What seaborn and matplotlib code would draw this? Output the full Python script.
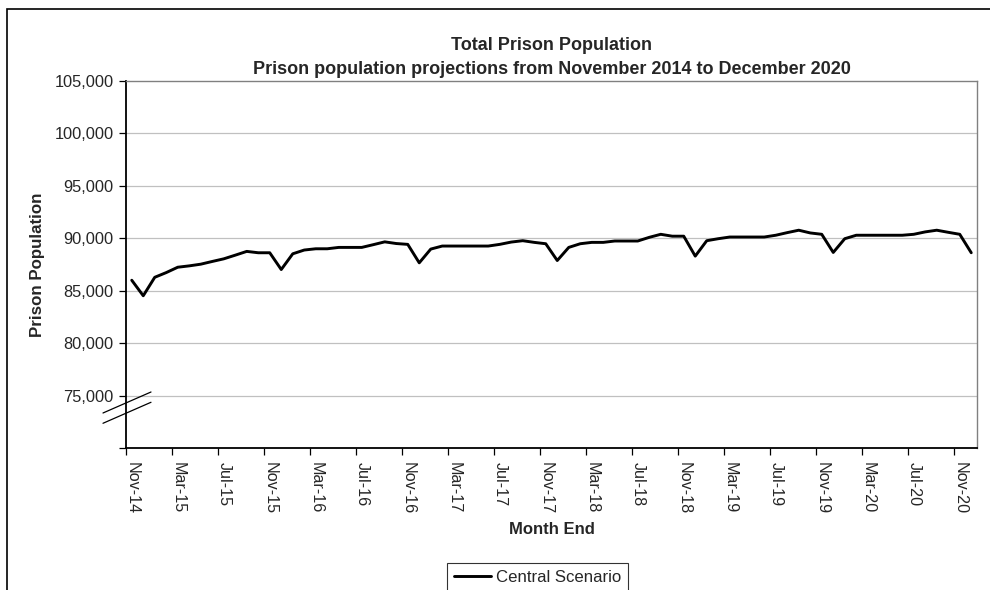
import numpy as np
import pandas as pd
import seaborn as sns
import matplotlib as mpl
from matplotlib import pyplot as plt
from matplotlib.patches import Rectangle
from matplotlib.lines import Line2D

sns.set_theme(style="white")
plt.rcParams['font.family'] = ["Liberation Sans", "DejaVu Sans"]

# monthly values, Nov-14 .. Dec-20
months = pd.date_range("2014-11-30", "2020-12-31", freq="ME")
month_labels = [m.strftime("%b-%y") for m in months]
central = [
    86000, 84520, 86280, 86730, 87240, 87370, 87530, 87790, 88040, 88390,
    88750, 88620, 88620, 87020, 88520, 88880, 89000, 89000, 89130, 89130,
    89130, 89390, 89660, 89500, 89420, 87660, 88970, 89260, 89260, 89260,
    89260, 89260, 89420, 89640, 89770, 89610, 89480, 87880, 89130, 89480,
    89610, 89610, 89740, 89740, 89740, 90090, 90380, 90200, 90200, 88300,
    89770, 89960, 90120, 90120, 90120, 90120, 90290, 90540, 90770, 90510,
    90380, 88650, 89960, 90290, 90290, 90290, 90290, 90290, 90380, 90610,
    90770, 90570, 90380, 88620,
]
y_ticks = [70000, 75000, 80000, 85000, 90000, 95000, 100000, 105000]

df = pd.DataFrame({"idx": np.arange(len(central)), "Month End": month_labels,
                   "Central Scenario": central})

fig = plt.figure(figsize=(9.9, 5.9), dpi=100)
ax = fig.add_axes([126 / 990, 1 - 448 / 590, 851 / 990, 367 / 590])

sns.lineplot(data=df, x="idx", y="Central Scenario", ax=ax, color="black",
             lw=2.1, label="Central Scenario", legend=False)

ax.set_xlim(-0.5, len(central) - 0.5)
ax.set_ylim(y_ticks[0], y_ticks[-1])

# y axis
ax.set_yticks(y_ticks)
ax.set_yticklabels([""] + [f"{v:,}" for v in y_ticks[1:]], fontsize=11.8)
for v in y_ticks[1:-1]:
    ax.axhline(v, color="#c0c0c0", lw=0.9, zorder=0)
ax.tick_params(axis="y", which="major", direction="out", length=5, width=0.9,
               color="black", pad=4, left=True)

# x axis: labels at category centres, tick marks on the boundaries
label_pos = np.arange(0, len(central), 4)
ax.set_xticks(label_pos)
ax.set_xticklabels([month_labels[i] for i in label_pos], rotation=270,
                   fontsize=11.6, ha="center", va="top")
ax.set_xticks(np.arange(-0.5, len(central) - 1, 4), minor=True)
ax.tick_params(axis="x", which="major", length=0, pad=10)
ax.tick_params(axis="x", which="minor", direction="out", length=5, width=0.9,
               color="black", bottom=True)

for side in ["left", "bottom"]:
    ax.spines[side].set_color("black")
    ax.spines[side].set_linewidth(1.3)
for side in ["top", "right"]:
    ax.spines[side].set_visible(True)
    ax.spines[side].set_color("#808080")
    ax.spines[side].set_linewidth(1.0)

ax.set_xlabel("Month End", fontsize=12, fontweight="bold", labelpad=6)
ax.set_ylabel("Prison Population", fontsize=12.2, fontweight="bold", labelpad=7)
ax.set_title("Total Prison Population\n"
             "Prison population projections from November 2014 to December 2020",
             fontsize=13, fontweight="bold", linespacing=1.55, pad=5)

# axis break marks
for dy in (0.0, -0.028):
    ax.add_line(Line2D([-23 / 851, 25 / 851],
                       [(448 - 413) / 367 + dy, (448 - 392) / 367 + dy],
                       transform=ax.transAxes, color="black", lw=0.9,
                       clip_on=False))

# legend
handle = Line2D([], [], color="black", lw=2.1)
leg = fig.legend([handle], ["Central Scenario"], loc="upper left",
                 bbox_to_anchor=(447 / 990, 1 - 563 / 590), fontsize=12.1,
                 frameon=True, fancybox=False, handlelength=2.2,
                 handletextpad=0.3, borderpad=0.4, borderaxespad=0)
leg.get_frame().set_edgecolor("black")
leg.get_frame().set_linewidth(0.8)

# chart area border
fig.patches.append(Rectangle((7 / 990, -0.1), 1.2, 1 - 9 / 590 + 0.1,
                             transform=fig.transFigure, fill=False,
                             edgecolor="black", lw=1.2))

plt.savefig("out.png", dpi=100)
